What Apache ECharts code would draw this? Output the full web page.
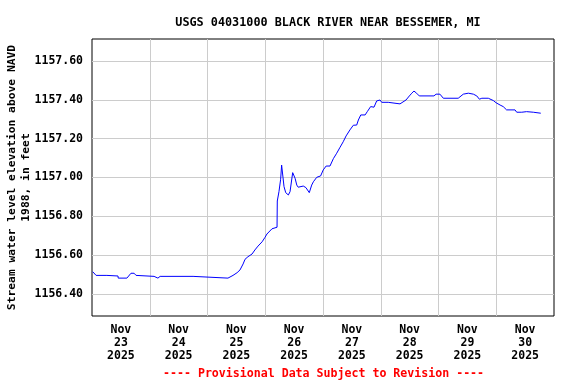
<!DOCTYPE html>
<html>
<head>
<meta charset="utf-8">
<script src="https://cdn.jsdelivr.net/npm/echarts@6/dist/echarts.min.js"></script>
<style>html,body{margin:0;padding:0;background:#fff}#c{width:576px;height:384px}</style>
</head>
<body>
<div id="c"></div>
<script>
// Hours since 2025-11-23 00:00
var hours = [0.3,0.4,1.7,6.2,6.6,10.8,10.9,14.5,15.0,16.2,17.5,18.3,19.1,25.8,26.2,26.6,27.4,28.3,42.0,42.2,56.5,56.9,58.6,60.3,61.5,62.8,63.6,64.8,66.5,67.7,69.0,70.7,71.9,72.7,74.8,76.9,77.0,77.7,78.4,78.8,79.1,79.8,80.5,81.6,82.3,83.4,84.4,85.1,85.7,87.8,88.9,90.3,91.3,92.0,93.4,95.0,96.1,97.3,98.9,100.3,101.7,103.1,104.4,105.6,107.2,108.6,110.0,110.7,111.7,113.5,114.4,115.8,117.2,118.3,119.7,120.4,123.1,123.8,128.0,128.7,130.5,131.9,132.9,133.8,134.9,136.0,142.1,143.0,144.6,146.0,152.2,154.3,156.4,157.1,158.5,159.9,161.0,162.0,164.7,166.8,167.9,169.6,170.9,172.3,175.8,176.5,178.6,179.2,180.6,183.4,184.1,186.5];
var levels = [1156.515,1156.507,1156.496,1156.496,1156.493,1156.493,1156.482,1156.482,1156.491,1156.507,1156.507,1156.496,1156.491,1156.491,1156.482,1156.491,1156.482,1156.491,1156.491,1156.482,1156.482,1156.491,1156.496,1156.510,1156.524,1156.555,1156.579,1156.592,1156.606,1156.627,1156.647,1156.669,1156.692,1156.709,1156.736,1156.744,1156.879,1156.927,1156.991,1157.064,1157.064,1156.953,1156.922,1156.910,1156.927,1157.025,1156.996,1156.961,1156.950,1156.956,1156.948,1156.922,1156.961,1156.978,1157.001,1157.008,1157.039,1157.059,1157.059,1157.097,1157.125,1157.156,1157.184,1157.214,1157.245,1157.269,1157.270,1157.296,1157.322,1157.322,1157.339,1157.365,1157.362,1157.394,1157.399,1157.387,1157.387,1157.379,1157.379,1157.387,1157.399,1157.420,1157.434,1157.445,1157.434,1157.420,1157.420,1157.429,1157.429,1157.408,1157.408,1157.429,1157.434,1157.439,1157.429,1157.420,1157.403,1157.408,1157.408,1157.396,1157.385,1157.373,1157.365,1157.348,1157.348,1157.336,1157.336,1157.344,1157.339,1157.336,1157.331,1157.331];
var dayLabels = ['Nov\n23\n2025','Nov\n24\n2025','Nov\n25\n2025','Nov\n26\n2025','Nov\n27\n2025','Nov\n28\n2025','Nov\n29\n2025','Nov\n30\n2025'];
var titleText = 'USGS 04031000 BLACK RIVER NEAR BESSEMER, MI';
var yName = 'Stream water level elevation above NAVD\n1988, in feet';
var noteText = '---- Provisional Data Subject to Revision ----';

var pts = hours.map(function(h, i){ return [h, levels[i]]; });
var FONT = 'DejaVu Sans Mono';
var chart = echarts.init(document.getElementById('c'), null, {renderer: 'canvas'});
chart.setOption({
  animation: false,
  backgroundColor: '#fff',
  title: {
    text: titleText, left: 323, top: 12, textAlign: 'center',
    textStyle: {fontFamily: FONT, fontSize: 11.8, fontWeight: 'bold', color: '#000'}
  },
  grid: {left: 92, top: 39, right: 22, bottom: 68, show: true, borderColor: '#000', borderWidth: 1, backgroundColor: 'transparent', containLabel: false, outerBoundsMode: 'none'},
  xAxis: [{
    type: 'value', min: 0, max: 192, interval: 24,
    axisLine: {show: false}, axisTick: {show: false}, axisLabel: {show: false},
    splitLine: {show: true, showMinLine: false, showMaxLine: false, lineStyle: {color: '#cccccc', width: 1}}
  }, {
    type: 'value', min: 0, max: 192, interval: 12, position: 'bottom',
    axisLine: {show: false}, axisTick: {show: false}, splitLine: {show: false},
    axisLabel: {
      show: true, margin: 8, lineHeight: 13,
      fontFamily: FONT, fontSize: 11.5, fontWeight: 'bold', color: '#000',
      formatter: function(v){ var k = Math.round(v / 12); return (k % 2 === 1) ? dayLabels[(k - 1) / 2] : ''; }
    }
  }],
  yAxis: {
    type: 'value', min: 1156.287, max: 1157.713, splitNumber: 7, minInterval: 0.2, maxInterval: 0.2,
    axisLine: {show: false}, axisTick: {show: false},
    axisLabel: {
      margin: 9, fontFamily: FONT, fontSize: 11.5, fontWeight: 'bold', color: '#000',
      showMinLabel: false, showMaxLabel: false,
      formatter: function(v){ return v.toFixed(2); }
    },
    splitLine: {show: true, showMinLine: false, showMaxLine: false, lineStyle: {color: '#cccccc', width: 1}},
    name: yName, nameLocation: 'middle', nameGap: 59, nameRotate: 90, nameMoveOverlap: false,
    nameTextStyle: {fontFamily: FONT, fontSize: 11.3, fontWeight: 'bold', color: '#000', lineHeight: 14, align: 'center'}
  },
  series: [{
    type: 'line', xAxisIndex: 0, data: pts, showSymbol: false, symbol: 'none',
    lineStyle: {color: '#0000ff', width: 1}, silent: true
  }],
  graphic: [{
    type: 'text', left: 163, top: 368, z: 10,
    style: {text: noteText, fill: '#ff0000', font: 'bold 11.6px "DejaVu Sans Mono"'}
  }]
});
</script>
</body>
</html>
